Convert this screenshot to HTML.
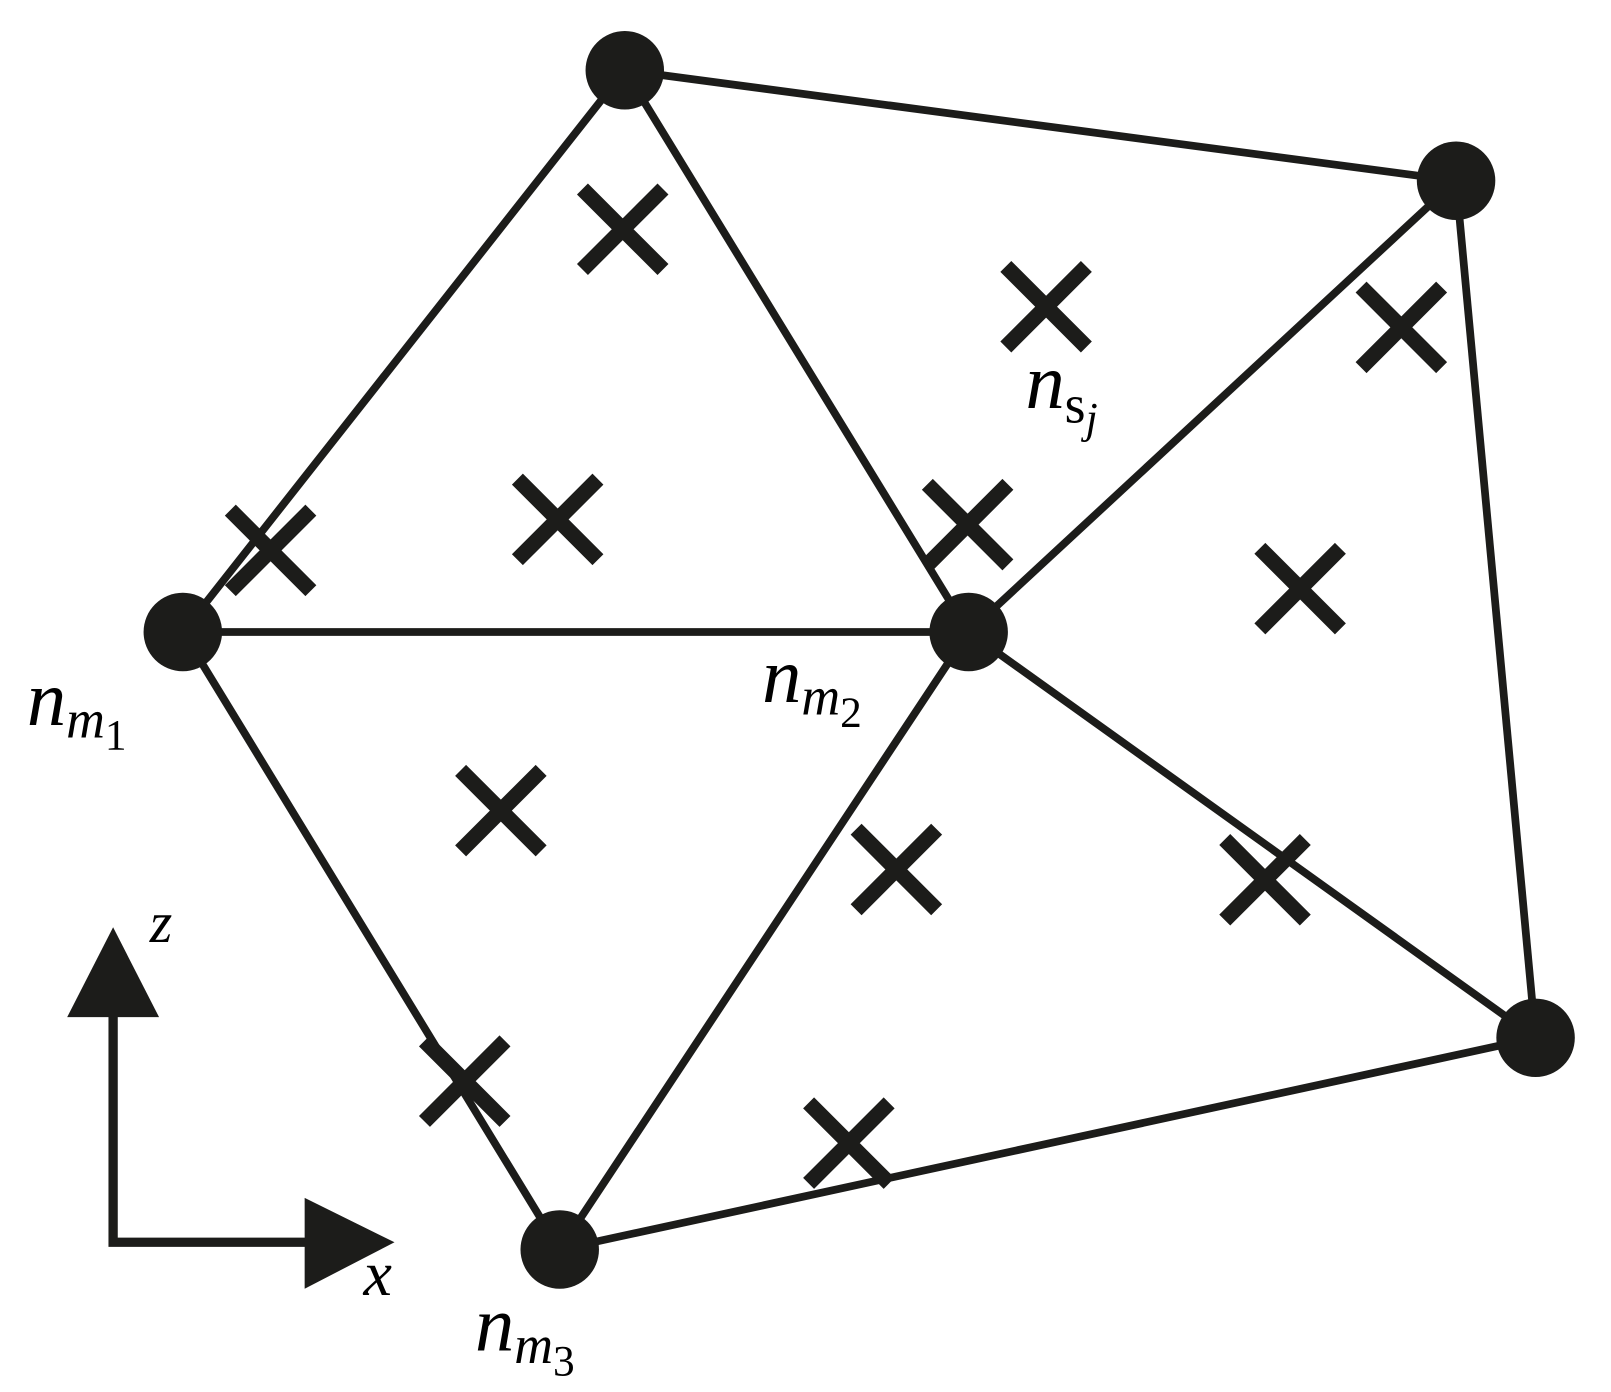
<!DOCTYPE html>
<html><head><meta charset="utf-8"><style>html,body{margin:0;padding:0;background:#fff}svg{display:block}</style></head>
<body>
<svg width="1611" height="1392" viewBox="0 0 1560 1348" xmlns="http://www.w3.org/2000/svg">
<g stroke="#1c1c1a" stroke-width="7.5" fill="none">
<line x1="177" y1="612" x2="605" y2="68"/>
<line x1="605" y1="68" x2="938" y2="612"/>
<line x1="605" y1="68" x2="1410" y2="175"/>
<line x1="1410" y1="175" x2="938" y2="612"/>
<line x1="1410" y1="175" x2="1487" y2="1005"/>
<line x1="177" y1="612" x2="938" y2="612"/>
<line x1="177" y1="612" x2="542" y2="1210"/>
<line x1="938" y1="612" x2="542" y2="1210"/>
<line x1="938" y1="612" x2="1487" y2="1005"/>
<line x1="542" y1="1210" x2="1487" y2="1005"/>
</g>
<g fill="#1c1c1a">
<circle cx="605" cy="68" r="38"/><circle cx="1410" cy="175" r="38"/>
<circle cx="177" cy="612" r="38"/><circle cx="938" cy="612" r="38"/>
<circle cx="542" cy="1210" r="38"/><circle cx="1487" cy="1005" r="38"/>
</g>
<g stroke="#1c1c1a" stroke-width="15">
<path d="M564 183l78 78M642 183l-78 78"/>
<path d="M974 258l78 78M1052 258l-78 78"/>
<path d="M1318 278l78 78M1396 278l-78 78"/>
<path d="M223 494l78 78M301 494l-78 78"/>
<path d="M501 464l78 78M579 464l-78 78"/>
<path d="M898 469l78 78M976 469l-78 78"/>
<path d="M1220 531l78 78M1298 531l-78 78"/>
<path d="M446 746l78 78M524 746l-78 78"/>
<path d="M829 803l78 78M907 803l-78 78"/>
<path d="M1186 813l78 78M1264 813l-78 78"/>
<path d="M411 1008l78 78M489 1008l-78 78"/>
<path d="M783 1068l78 78M861 1068l-78 78"/>
</g>
<g stroke="#1c1c1a" stroke-width="9" fill="none">
<polyline points="109.5,980 109.5,1203 300,1203"/>
</g>
<g fill="#1c1c1a">
<polygon points="109.5,898 65,985 154,985"/>
<polygon points="295,1160 382,1203 295,1248"/>
</g>
<g font-family="Liberation Serif, serif" font-style="italic" fill="#000">
<text x="993" y="395" font-size="76">n<tspan font-size="52" dy="14" font-style="normal">s</tspan><tspan font-size="42" dy="10">j</tspan></text>
<text x="26" y="702" font-size="76">n<tspan font-size="52" dy="12">m</tspan><tspan font-size="42" dy="12" font-style="normal">1</tspan></text>
<text x="738" y="680" font-size="76">n<tspan font-size="52" dy="12">m</tspan><tspan font-size="42" dy="12" font-style="normal">2</tspan></text>
<text x="460" y="1308" font-size="76">n<tspan font-size="52" dy="12">m</tspan><tspan font-size="42" dy="12" font-style="normal">3</tspan></text>
<text x="145" y="912" font-size="56">z</text>
<text x="352" y="1254" font-size="62">x</text>
</g>
</svg>
</body></html>
